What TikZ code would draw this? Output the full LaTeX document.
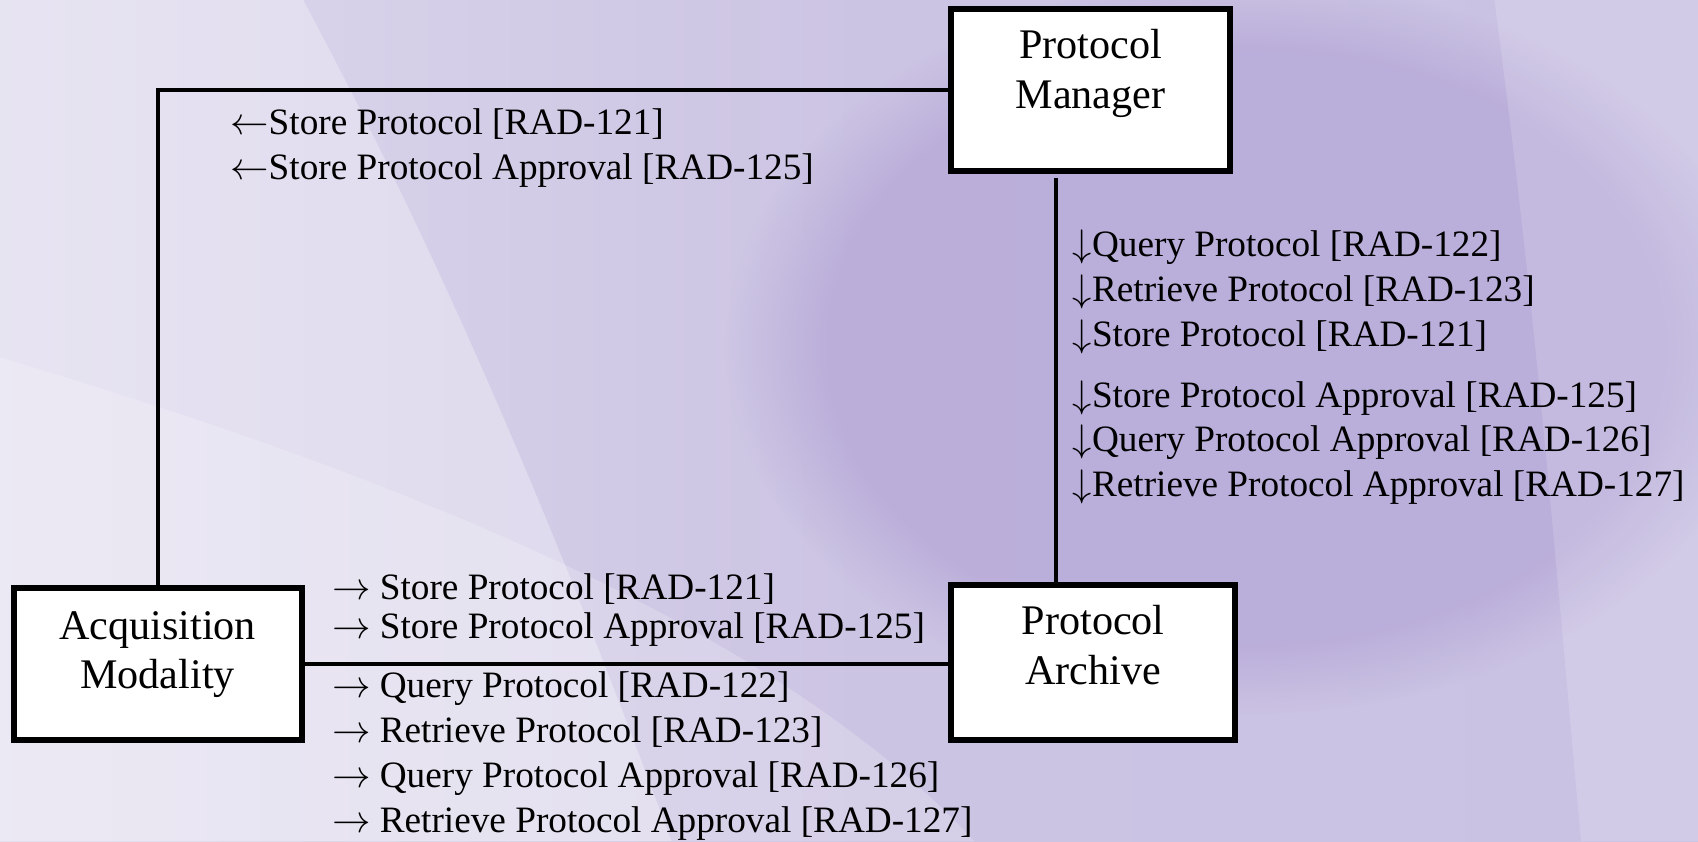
\documentclass[tikz,border=0pt]{standalone}
\usepackage{fontspec}
\setmainfont{Liberation Serif}
\usetikzlibrary{positioning,fadings}
\pgfdeclarehorizontalshading{backdrop}{100bp}{rgb(0bp)=(0.95,0.95,0.97); rgb(25bp)=(0.87,0.85,0.93); rgb(50bp)=(0.80,0.77,0.89); rgb(75bp)=(0.79,0.76,0.89); rgb(100bp)=(0.87,0.86,0.93)}
\definecolor{deeplilac}{rgb}{0.69,0.63,0.83}
\begin{document}
\begin{tikzpicture}[x=0.010829cm,y=-0.010829cm]
		\tikzset{box/.style = {draw, line width=0.06cm, fill=white, inner sep=0pt}}
		\tikzset{boxtext/.style = {inner sep=0pt, align=center, font=\fontsize{12}{14.1}\selectfont}}
		\tikzset{msg/.style = {inner sep=0pt, anchor=north west, align=left, font=\fontsize{10.6}{12.8}\selectfont}}
		\tikzset{link/.style = {line width=0.04cm}}
		
		% backdrop
		\useasboundingbox (0,0) rectangle (1568,777);
		\begin{scope}
		\clip (0,0) rectangle (1568,777);
		\shade[shading=backdrop] (0,0) rectangle (1568,777);
		\fill[deeplilac, opacity=0.6, path fading=circle with fuzzy edge 20 percent] (1150,320) ellipse [x radius=480, y radius=340];
		\fill[white, opacity=0.3] (0,0) -- (280,0) .. controls (430,280) and (540,560) .. (620,777) -- (0,777) -- cycle;
		\fill[white, opacity=0.2] (0,330) .. controls (300,420) and (700,560) .. (900,777) -- (0,777) -- cycle;
		\fill[white, opacity=0.15] (1380,0) .. controls (1420,300) and (1440,560) .. (1460,777) -- (1568,777) -- (1568,0) -- cycle;
		\end{scope}
		
		\node[box, minimum width=2.783cm, minimum height=1.614cm] (pm) at (1007,83) {};
		\node[boxtext, below=0.225cm of pm.north] (pmtext) {Protocol\\Manager};
		\node[box, minimum width=2.88cm, minimum height=1.527cm] (am) at (145.5,613) {};
		\node[boxtext, below=0.26cm of am.north] (amtext) {Acquisition\\Modality};
		\node[box, minimum width=2.837cm, minimum height=1.549cm] (pa) at (1009.5,612) {};
		\node[boxtext, below=0.225cm of pa.north] (patext) {Protocol\\Archive};
		
		\coordinate (drop) at (975,0);
		\draw[link] (pm.west) -| (am.north);
		\draw[link] (am.east) -- (am.east -| pa.west);
		\draw[link, shorten <=1.4pt] (pm.south -| drop) -- (pa.north -| drop);
		
		\node[msg] (tomod) at (212,100) {$\leftarrow$Store Protocol [RAD-121]\\$\leftarrow$Store Protocol Approval [RAD-125]};
		\node[msg] (toarch) at (990,212) {$\downarrow$Query Protocol [RAD-122]\\$\downarrow$Retrieve Protocol [RAD-123]\\$\downarrow$Store Protocol [RAD-121]\\[4.3pt]$\downarrow$Store Protocol Approval [RAD-125]\\$\downarrow$Query Protocol Approval [RAD-126]\\$\downarrow$Retrieve Protocol Approval [RAD-127]};
		\node[msg, font=\fontsize{10.6}{11.1}\selectfont] (amstore) at (306,529) {$\rightarrow$ Store Protocol [RAD-121]\\$\rightarrow$ Store Protocol Approval [RAD-125]};
		\node[msg] (amquery) at (306,620) {$\rightarrow$ Query Protocol [RAD-122]\\$\rightarrow$ Retrieve Protocol [RAD-123]\\$\rightarrow$ Query Protocol Approval [RAD-126]\\$\rightarrow$ Retrieve Protocol Approval [RAD-127]};
\end{tikzpicture}
\end{document}
